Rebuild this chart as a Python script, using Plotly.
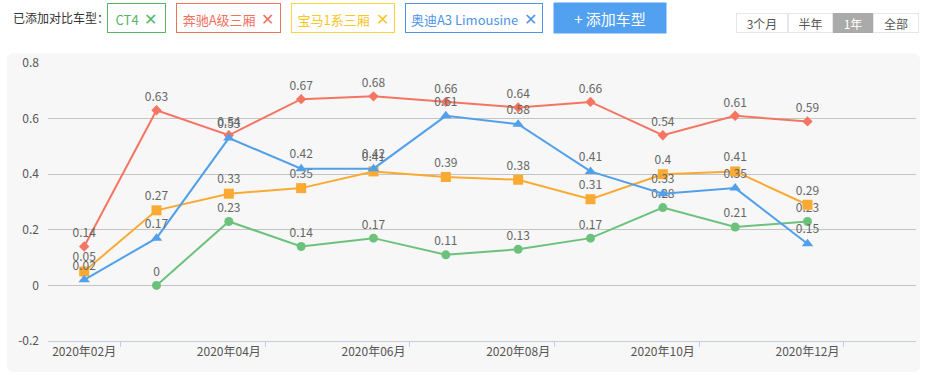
import plotly.graph_objects as go

# ---------------- data ----------------
months = ["2020年02月", "2020年03月", "2020年04月", "2020年05月", "2020年06月", "2020年07月",
          "2020年08月", "2020年09月", "2020年10月", "2020年11月", "2020年12月", "2021年01月"]
x_label_months = ["2020年02月", "2020年04月", "2020年06月", "2020年08月", "2020年10月", "2020年12月"]

ct4 = [None, 0, 0.23, 0.14, 0.17, 0.11, 0.13, 0.17, 0.28, 0.21, 0.23]
benz_a = [0.14, 0.63, 0.54, 0.67, 0.68, 0.66, 0.64, 0.66, 0.54, 0.61, 0.59]
bmw_1 = [0.05, 0.27, 0.33, 0.35, 0.41, 0.39, 0.38, 0.31, 0.40, 0.41, 0.29]
audi_a3 = [0.02, 0.17, 0.53, 0.42, 0.42, 0.61, 0.58, 0.41, 0.33, 0.35, 0.15]

series_names = ["CT4", "奔驰A级三厢", "宝马1系三厢", "奥迪A3 Limousine"]
y_ticks = [-0.2, 0, 0.2, 0.4, 0.6, 0.8]
y_tick_labels = ["-0.2", "0", "0.2", "0.4", "0.6", "0.8"]
range_buttons = ["3个月", "半年", "1年", "全部"]

# ---------------- layout geometry ----------------
W, H = 927, 375
L, R, T, B = 48, 11, 63, 34
PW, PH = W - L - R, H - T - B

def px(x):
    return (x - L) / PW

def py(y):
    return (H - B - y) / PH

FONT = "Noto Sans CJK SC, Noto Sans, sans-serif"
LABEL_C = "#666666"

colors = {"CT4": "#6cc27c", "奔驰A级三厢": "#f47562", "宝马1系三厢": "#f9aa33", "奥迪A3 Limousine": "#52a0ea"}
symbols = {"CT4": "circle", "奔驰A级三厢": "diamond", "宝马1系三厢": "square", "奥迪A3 Limousine": "triangle-up"}
msize = {"CT4": 9, "奔驰A级三厢": 8, "宝马1系三厢": 10, "奥迪A3 Limousine": 10}
values = {"CT4": ct4, "奔驰A级三厢": benz_a, "宝马1系三厢": bmw_1, "奥迪A3 Limousine": audi_a3}

fig = go.Figure()

xs = list(range(len(ct4)))
for name in series_names:
    vals = values[name]
    txt = ["" if v is None else ("%g" % v) for v in vals]
    fig.add_trace(go.Scatter(
        x=xs, y=vals, name=name, mode="lines+markers+text",
        text=txt, textposition="top center",
        textfont=dict(family=FONT, size=12, color=LABEL_C),
        line=dict(color=colors[name], width=2),
        marker=dict(symbol=symbols[name], size=msize[name], color=colors[name]),
        showlegend=False, hoverinfo="x+y",
    ))

# invisible trace carrying the tick-mark axis
fig.add_trace(go.Scatter(x=list(range(len(months))), y=[None] * len(months), xaxis="x2",
                         mode="none", showlegend=False, hoverinfo="skip"))

label_idx = [months.index(m) for m in x_label_months]
boundary_ticks = [i + 0.5 for i in label_idx]

fig.update_layout(
    width=W, height=H,
    margin=dict(l=L, r=R, t=T, b=B),
    paper_bgcolor="#ffffff",
    plot_bgcolor="rgba(0,0,0,0)",
    font=dict(family=FONT, size=12, color="#555555"),
    xaxis=dict(
        range=[-0.5, len(months) - 0.5], tickmode="array",
        tickvals=label_idx, ticktext=x_label_months,
        ticks="", showgrid=False, zeroline=False,
        showline=True, linecolor="#c3cfe0", linewidth=1,
        tickfont=dict(family=FONT, size=12, color="#555555"),
        fixedrange=True,
    ),
    xaxis2=dict(
        overlaying="x", anchor="y", side="bottom",
        range=[-0.5, len(months) - 0.5], tickmode="array",
        tickvals=boundary_ticks, ticktext=[""] * len(boundary_ticks),
        ticks="outside", ticklen=5, tickcolor="#c3cfe0", tickwidth=1,
        showgrid=False, zeroline=False, showline=False, showticklabels=True,
    ),
    yaxis=dict(
        range=[-0.2, 0.8], tickmode="array", tickvals=y_ticks, ticktext=y_tick_labels,
        showgrid=True, gridcolor="#c4c4c4", gridwidth=1, zeroline=False,
        showline=False, ticks="", ticklabelstandoff=8,
        tickfont=dict(family=FONT, size=12, color="#555555"),
    ),
)

# panel background
x0, x1 = px(7), px(920)
y0, y1 = py(372), py(53)
rx, ry = 8 / PW, 8 / PH
path = (f"M {x0+rx},{y1} L {x1-rx},{y1} Q {x1},{y1} {x1},{y1-ry} L {x1},{y0+ry} "
        f"Q {x1},{y0} {x1-rx},{y0} L {x0+rx},{y0} Q {x0},{y0} {x0},{y0+ry} "
        f"L {x0},{y1-ry} Q {x0},{y1} {x0+rx},{y1} Z")
fig.add_shape(type="path", path=path, xref="paper", yref="paper",
              fillcolor="#f7f7f7", line=dict(width=0), layer="below")

# ---------------- top bar ----------------
ann = []
ann.append(dict(text="已添加对比车型：", x=px(11), y=py(18), xref="paper", yref="paper",
                xanchor="left", yanchor="middle",
                showarrow=False, font=dict(family=FONT, size=12, color="#333333")))

chips = [
    ("CT4", 107, 166, "#55b665", "#55b665"),
    ("奔驰A级三厢", 176, 281, "#f2705e", "#f2705e"),
    ("宝马1系三厢", 291, 395, "#f7d440", "#f5c82a"),
    ("奥迪A3 Limousine", 405, 543, "#4d93e6", "#4d93e6"),
]
for name, a, b, bc, tc in chips:
    ann.append(dict(text=f"{name}  <span style='font-size:16px'>✕</span>",
                    x=px((a + b) / 2), y=py(18), xref="paper", yref="paper",
                    xanchor="center", yanchor="middle",
                    width=b - a - 2, height=28, borderwidth=1, bordercolor=bc, borderpad=0,
                    bgcolor="#ffffff", showarrow=False,
                    font=dict(family=FONT, size=13, color=tc)))

ann.append(dict(text="+ 添加车型", x=px(610), y=py(18), xref="paper", yref="paper",
                xanchor="center", yanchor="middle",
                width=112, height=30, bgcolor="#52a0f0", borderpad=0, showarrow=False,
                font=dict(family=FONT, size=15, color="#ffffff")))

seg = [("3个月", 736, 788), ("半年", 788, 833), ("1年", 833, 873), ("全部", 873, 919)]
for label, a, b in seg:
    active = label == "1年"
    ann.append(dict(text=label, x=px((a + b) / 2), y=py(23), xref="paper", yref="paper",
                    xanchor="center", yanchor="middle",
                    width=b - a - 2, height=18, borderwidth=1,
                    bordercolor="#e6e6e6" if not active else "#aaaaaa",
                    bgcolor="#aaaaaa" if active else "#ffffff", borderpad=0, showarrow=False,
                    font=dict(family=FONT, size=12, color="#ffffff" if active else "#555555")))

fig.update_layout(annotations=ann)

fig.write_html("out.html", config={"displayModeBar": False},
               post_script="document.body.style.margin='0';")
